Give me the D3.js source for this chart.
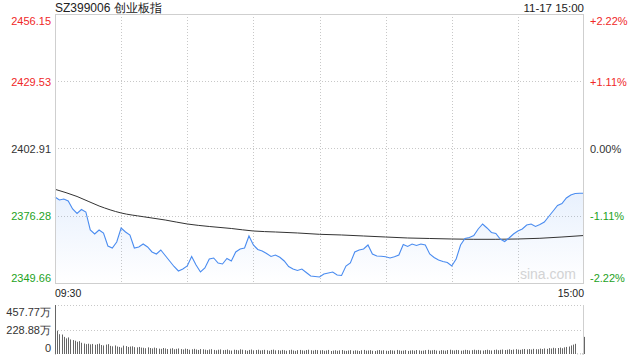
<!DOCTYPE html>
<html>
<head>
<meta charset="utf-8">
<script src="https://cdn.jsdelivr.net/npm/d3@7"></script>
<style>
  html, body { margin: 0; padding: 0; background: #fff; }
  svg { display: block; font-family: "Liberation Sans", Arial, sans-serif; }
</style>
</head>
<body>
<svg id="chart" width="640" height="360"></svg>
<script>
// ---- data ----
const title = "SZ399006 创业板指";
const stamp = "11-17 15:00";
const prevClose = 2402.91;
const priceTicks = [2456.15, 2429.53, 2402.91, 2376.28, 2349.66];
const pctTicks = ["+2.22%", "+1.11%", "0.00%", "-1.11%", "-2.22%"];
const volTicks = [457.77, 228.88, 0];
const volTickLabels = ["457.77万", "228.88万", "0"];
const timeLabels = ["09:30", "15:00"];
// price every 2 minutes (0..240)
const priceMinuteStep = 2;
const prices = [
  2383.71, 2382.52, 2382.92, 2382.13, 2378.96, 2377.18, 2378.76, 2377.77, 2370.65, 2369.06,
  2370.65, 2369.46, 2364.31, 2363.52, 2365.89, 2371.44, 2369.85, 2368.67, 2363.52, 2363.92,
  2365.10, 2363.92, 2361.94, 2361.14, 2362.73, 2360.55, 2358.37, 2356.19, 2354.41, 2355.20,
  2356.39, 2360.16, 2356.79, 2354.01, 2355.60, 2359.16, 2359.56, 2357.58, 2357.19, 2359.36,
  2358.37, 2361.94, 2363.12, 2363.52, 2368.27, 2364.71, 2362.93, 2362.33, 2361.34, 2360.16,
  2360.75, 2359.84, 2358.37, 2356.19, 2355.20, 2354.61, 2355.20, 2353.82, 2352.43, 2352.24,
  2352.04, 2353.23, 2353.62, 2354.01, 2352.83, 2352.63, 2356.39, 2357.58, 2361.94, 2362.73,
  2363.12, 2364.71, 2361.14, 2360.35, 2360.23, 2360.08, 2359.56, 2360.08, 2360.75, 2364.91,
  2364.11, 2365.10, 2364.51, 2365.10, 2364.71, 2361.14, 2359.76, 2358.77, 2358.18, 2357.78,
  2356.39, 2359.16, 2364.71, 2367.28, 2367.68, 2368.47, 2371.04, 2373.02, 2371.44, 2369.66,
  2369.26, 2367.08, 2366.09, 2367.48, 2369.06, 2370.25, 2371.04, 2372.63, 2373.02, 2372.03,
  2372.82, 2373.81, 2375.99, 2378.17, 2380.35, 2381.14, 2383.31, 2384.50, 2385.09, 2385.17,
  2385.17
];
// average price every 10 minutes
const avgMinuteStep = 10;
const avgPrices = [
  2386.76, 2383.91, 2380.15, 2377.38, 2375.91, 2374.60, 2373.02, 2372.03, 2371.24, 2370.25,
  2369.85, 2369.46, 2368.94, 2368.67, 2368.27, 2367.87, 2367.48, 2367.28, 2367.08, 2366.96,
  2366.96, 2367.08, 2367.36, 2367.87, 2368.46
];
// volume per minute (万)
const volumes = [
  457.77,218,185,182,160,146,155,136,130,124,114,120,
  105,98,92,96,90,94,86,92,97,84,80,88,
  92,76,72,80,70,66,60,78,74,66,70,72,
  64,62,66,60,58,54,62,56,52,60,55,50,
  48,56,52,46,50,54,44,48,52,46,42,50,
  47,40,44,48,42,38,46,44,40,36,42,45,
  38,34,40,43,36,38,42,35,32,40,38,34,
  44,40,36,30,38,42,34,37,40,33,36,39,
  35,30,38,41,34,36,32,38,35,30,36,40,
  33,29,36,38,34,31,37,40,35,32,38,36,
  34,36,30,33,38,28,32,35,30,34,37,31,
  29,33,36,30,34,32,28,35,38,31,33,36,
  30,28,34,37,32,35,30,29,36,33,31,38,
  34,30,32,36,29,33,35,31,37,34,30,32,
  36,39,33,35,38,32,30,36,34,31,37,40,
  35,33,38,36,31,34,39,37,33,36,40,35,
  38,34,32,37,40,36,33,38,41,35,39,42,
  37,40,44,38,42,45,41,39,44,47,43,46,
  42,48,45,44,50,46,52,48,55,51,58,54,
  56,60,54,62,66,70,80,88,95,3,3,3,160
];

// ---- layout ----
const svg = d3.select("#chart");
const L = 55, R = 584, T = 14, B = 283;
const VT = 305, VB = 354;
const red = "#f02828", green = "#1da21d", dark = "#333";

const x = d3.scaleLinear().domain([0, 240]).range([L, R]);
const y = d3.scaleLinear().domain([priceTicks[4], priceTicks[0]]).range([B, T]);
const yv = d3.scaleLinear().domain([0, volTicks[0]]).range([VB, VT]);
const colorFor = v => Math.abs(v - prevClose) < 0.005 ? dark : (v > prevClose ? red : green);

// gradient
const defs = svg.append("defs");
const grad = defs.append("linearGradient").attr("id", "fillGrad")
  .attr("gradientUnits", "userSpaceOnUse").attr("x1", 0).attr("x2", 0).attr("y1", 190).attr("y2", B);
grad.append("stop").attr("offset", 0).attr("stop-color", "#4a8cf0").attr("stop-opacity", 0.13);
grad.append("stop").attr("offset", 1).attr("stop-color", "#4a8cf0").attr("stop-opacity", 0.0);

// grid (price)
const gGrid = svg.append("g");
gGrid.selectAll("line.h").data(priceTicks.slice(1, 4)).join("line")
  .attr("x1", L).attr("x2", R).attr("y1", d => Math.round(y(d)) + 0.5).attr("y2", d => Math.round(y(d)) + 0.5)
  .attr("stroke", "#c8c8c8").attr("stroke-dasharray", "1,2");
gGrid.selectAll("line.v").data(d3.range(30, 240, 30)).join("line")
  .attr("y1", T).attr("y2", B).attr("x1", d => Math.round(x(d)) + 0.5).attr("x2", d => Math.round(x(d)) + 0.5)
  .attr("stroke", "#c8c8c8").attr("stroke-dasharray", "1,2");

// watermark
svg.append("text").attr("x", R - 8).attr("y", B - 4).attr("text-anchor", "end")
  .attr("font-size", 14).attr("fill", "#d4d4d4").text("sina.com");

// area + lines
const pts = prices.map((p, i) => [i * priceMinuteStep, p]);
svg.append("path").datum(pts)
  .attr("d", d3.area().x(d => x(d[0])).y0(B).y1(d => y(d[1])))
  .attr("fill", "url(#fillGrad)");
svg.append("path").datum(avgPrices.map((p, i) => [i * avgMinuteStep, p]))
  .attr("d", d3.line().x(d => x(d[0])).y(d => y(d[1])).curve(d3.curveMonotoneX))
  .attr("fill", "none").attr("stroke", "#333").attr("stroke-width", 1);
svg.append("path").datum(pts)
  .attr("d", d3.line().x(d => x(d[0])).y(d => y(d[1])))
  .attr("fill", "none").attr("stroke", "#4a8cf0").attr("stroke-width", 1.1);

// frame
svg.append("rect").attr("x", L + 0.5).attr("y", T + 0.5).attr("width", R - L - 1).attr("height", B - T)
  .attr("fill", "none").attr("stroke", "#cfcfcf");

// left price axis
const axL = svg.append("g").attr("transform", `translate(${L - 4},0)`)
  .call(d3.axisLeft(y).tickValues(priceTicks).tickFormat(d3.format(".2f")).tickSize(0).tickPadding(0));
axL.select(".domain").remove();
axL.selectAll("text").attr("font-size", 11).attr("font-family", "Liberation Sans, Arial, sans-serif")
  .attr("fill", d => colorFor(d))
  .attr("dy", (d, i) => i === 0 ? "0.95em" : (i === priceTicks.length - 1 ? "-0.1em" : "0.38em"));

// right pct axis
const axR = svg.append("g").attr("transform", `translate(${R + 6},0)`)
  .call(d3.axisRight(y).tickValues(priceTicks).tickFormat((d, i) => pctTicks[i]).tickSize(0).tickPadding(0));
axR.select(".domain").remove();
axR.selectAll("text").attr("font-size", 11).attr("font-family", "Liberation Sans, Arial, sans-serif")
  .attr("fill", d => colorFor(d))
  .attr("dy", (d, i) => i === 0 ? "0.95em" : (i === priceTicks.length - 1 ? "-0.1em" : "0.38em"));

// title + stamp
svg.append("text").attr("x", L).attr("y", 12).attr("font-size", 12).attr("fill", "#222").text(title);
svg.append("text").attr("x", R).attr("y", 12).attr("text-anchor", "end").attr("font-size", 11.5).attr("fill", "#222").text(stamp);

// time labels
svg.append("text").attr("x", x(0)).attr("y", 297).attr("font-size", 10.5).attr("fill", "#222").text(timeLabels[0]);
svg.append("text").attr("x", x(240)).attr("y", 297).attr("text-anchor", "end").attr("font-size", 10.5).attr("fill", "#222").text(timeLabels[1]);

// volume panel grid
svg.selectAll("line.vg").data(volTicks.slice(0, 2)).join("line")
  .attr("x1", L).attr("x2", R).attr("y1", d => Math.round(yv(d)) + 0.5).attr("y2", d => Math.round(yv(d)) + 0.5)
  .attr("stroke", "#c8c8c8").attr("stroke-dasharray", "1,2");
svg.append("line").attr("x1", L + 0.5).attr("x2", L + 0.5).attr("y1", VT).attr("y2", VB + 1).attr("stroke", "#cfcfcf");
svg.append("line").attr("x1", R - 0.5).attr("x2", R - 0.5).attr("y1", VT).attr("y2", VB + 1).attr("stroke", "#cfcfcf");

// volume bars
svg.append("g").selectAll("rect").data(volumes).join("rect")
  .attr("x", (d, i) => Math.round(x(i)))
  .attr("width", 1)
  .attr("y", d => yv(d))
  .attr("height", d => Math.max(0.5, yv(0) - yv(d)))
  .attr("fill", "#666");

// volume axis
const axV = svg.append("g").attr("transform", `translate(${L - 4},0)`)
  .call(d3.axisLeft(yv).tickValues(volTicks).tickFormat((d, i) => volTickLabels[i]).tickSize(0).tickPadding(0));
axV.select(".domain").remove();
axV.selectAll("text").attr("font-size", 11).attr("font-family", "Liberation Sans, Arial, sans-serif")
  .attr("fill", "#333")
  .attr("dy", (d, i) => i === 0 ? "0.95em" : (i === volTicks.length - 1 ? "-0.2em" : "0.38em"));
</script>
</body>
</html>
